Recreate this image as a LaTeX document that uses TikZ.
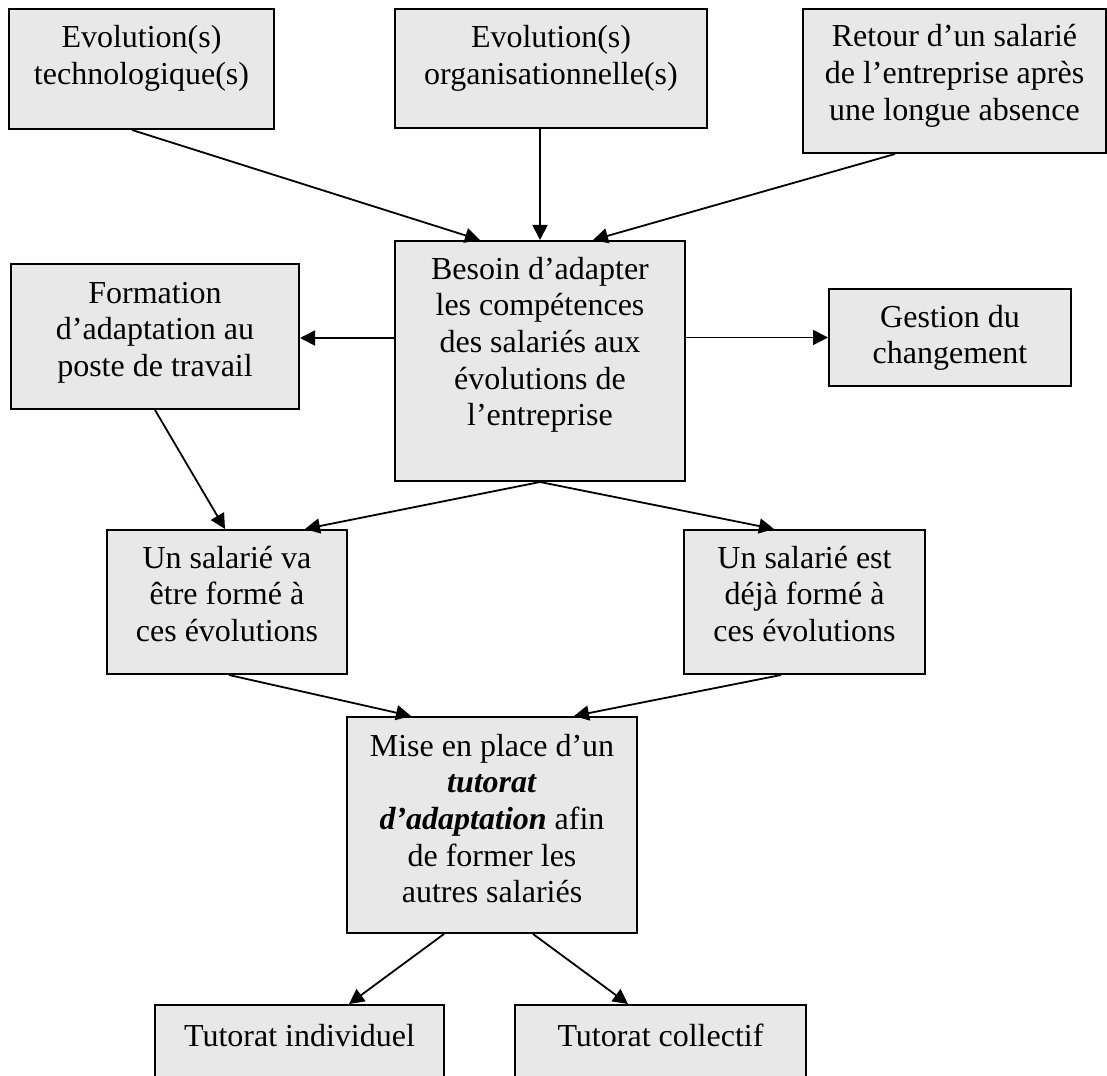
\documentclass[tikz,border=0pt]{standalone}
\usepackage{fontspec}
\setmainfont{Liberation Serif}
\usetikzlibrary{arrows.meta,calc}
\definecolor{boxgray}{RGB}{232,232,232}
\newcommand\boxlines[1]{\begin{tabular}[t]{@{}c@{}}#1\end{tabular}}
\tikzset{
  bx/.style={draw=black, line width=2pt, fill=boxgray, inner sep=0pt},
  txt/.style={inner sep=0pt, anchor=base, font=\fontsize{32}{36.7}\selectfont},
  arr/.style={line width=1.8pt, -{Triangle[length=15pt,width=15pt]}}
}
\begin{document}
\begin{tikzpicture}[x=1pt,y=-1pt]
\useasboundingbox (0,0) rectangle (1107,1075);
\clip (0,0) rectangle (1107,1075);
% boxes
\node[bx, minimum width=265pt, minimum height=120pt] (b1) at (141.5,69) {};
\node[bx, minimum width=312pt, minimum height=119pt] (b2) at (551,68.5) {};
\node[bx, minimum width=303pt, minimum height=144pt] (b3) at (954.5,81) {};
\node[bx, minimum width=290pt, minimum height=240pt] (besoin) at (540,361) {};
\node[bx, minimum width=288pt, minimum height=145pt] (formation) at (155,336.5) {};
\node[bx, minimum width=242pt, minimum height=97pt] (gestion) at (950,337.5) {};
\node[bx, minimum width=240pt, minimum height=144pt] (va) at (227,602) {};
\node[bx, minimum width=241pt, minimum height=144pt] (deja) at (804.5,602) {};
\node[bx, minimum width=290pt, minimum height=216pt] (mise) at (492,825) {};
\node[bx, minimum width=289pt, minimum height=100pt] (tind) at (299.5,1055) {};
\node[bx, minimum width=291pt, minimum height=100pt] (tcol) at (660.5,1055) {};
% texts
\node[txt] (t1) at ($(b1.north)+(0,40)$) {\boxlines{Evolution(s)\\technologique(s)}};
\node[txt] (t2) at ($(b2.north)+(0,40)$) {\boxlines{Evolution(s)\\organisationnelle(s)}};
\node[txt] (t3) at ($(b3.north)+(0,39)$) {\boxlines{Retour d’un salarié\\de l’entreprise après\\une longue absence}};
\node[txt] (t4) at ($(besoin.north)+(0,39)$) {\boxlines{Besoin d’adapter\\les compétences\\des salariés aux\\évolutions de\\l’entreprise}};
\node[txt] (t5) at ($(formation.north)+(0,40)$) {\boxlines{Formation\\d’adaptation au\\poste de travail}};
\node[txt] (t6) at ($(gestion.north)+(0,39)$) {\boxlines{Gestion du\\changement}};
\node[txt] (t7) at ($(va.north)+(0,39)$) {\boxlines{Un salarié va\\être formé à\\ces évolutions}};
\node[txt] (t8) at ($(deja.north)+(0,39)$) {\boxlines{Un salarié est\\déjà formé à\\ces évolutions}};
\node[txt] (t9) at ($(mise.north)+(0,40)$) {\boxlines{Mise en place d’un\\\textbf{\textit{tutorat}}\\\textbf{\textit{d’adaptation}} afin\\de former les\\autres salariés}};
\node[txt] (t10) at ($(tind.north)+(0,42)$) {Tutorat individuel};
\node[txt] (t11) at ($(tcol.north)+(0,42)$) {Tutorat collectif};
% connectors
\draw[arr] ([xshift=-9.5pt]b1.south) -- ([xshift=-60pt]besoin.north);
\draw[arr] ([xshift=-11pt]b2.south) -- (besoin.north);
\draw[arr] ([xshift=-59.5pt]b3.south) -- ([xshift=53pt]besoin.north);
\draw[arr] ([yshift=23pt]besoin.west) coordinate (pw) -- (formation.east |- pw);
\draw[arr] (besoin.east |- gestion.west) -- (gestion.west);
\draw[arr] (formation.south) -- ([xshift=-2pt]va.north);
\draw[arr] (besoin.south) -- ([xshift=78pt]va.north);
\draw[arr] (besoin.south) -- ([xshift=-30.5pt]deja.north);
\draw[arr] ([xshift=2pt]va.south) -- ([xshift=-81pt]mise.north);
\draw[arr] ([xshift=-23.5pt]deja.south) -- ([xshift=82pt]mise.north);
\draw[arr] ([xshift=-48pt]mise.south) -- ([xshift=49.5pt]tind.north);
\draw[arr] ([xshift=41pt]mise.south) -- ([xshift=-32.5pt]tcol.north);
\end{tikzpicture}
\end{document}
